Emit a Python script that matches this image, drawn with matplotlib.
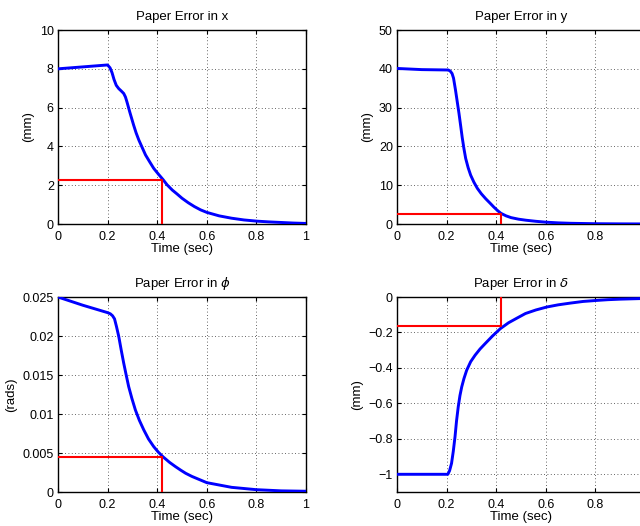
import numpy as np
import matplotlib
matplotlib.use('Agg')
import matplotlib.pyplot as plt

plt.rcParams['font.family'] = ['Liberation Sans', 'DejaVu Sans']
plt.rcParams['mathtext.fontset'] = 'dejavusans'
plt.rcParams['axes.linewidth'] = 1.
plt.rcParams['xtick.direction'] = 'in'
plt.rcParams['ytick.direction'] = 'in'
plt.rcParams['xtick.major.size'] = 3
plt.rcParams['ytick.major.size'] = 3
plt.rcParams['xtick.labelsize'] = 9
plt.rcParams['ytick.labelsize'] = 9
fs = 9.5

# error in x (mm)
tx = [0, 0.2, 0.21, 0.218, 0.226, 0.235, 0.245, 0.255, 0.265, 0.272, 0.278, 0.29, 0.305,
      0.315, 0.326, 0.34, 0.353, 0.37, 0.386, 0.405, 0.423, 0.44, 0.461, 0.48, 0.5, 0.525,
      0.55, 0.575, 0.6, 0.65, 0.7, 0.75, 0.8, 0.85, 0.9, 0.95, 1.0]
ex = [8.0, 8.2, 8.05, 7.8, 7.45, 7.15, 6.98, 6.86, 6.73, 6.55, 6.3, 5.75, 5.1,
      4.7, 4.33, 3.93, 3.56, 3.2, 2.87, 2.57, 2.3, 2.02, 1.75, 1.55, 1.33, 1.1,
      0.9, 0.73, 0.6, 0.42, 0.3, 0.21, 0.15, 0.11, 0.08, 0.05, 0.03]

# error in y (mm)
ty = [0, 0.1, 0.207, 0.215, 0.222, 0.228, 0.236, 0.243, 0.25, 0.257, 0.263, 0.27, 0.277,
      0.287, 0.297, 0.31, 0.324, 0.34, 0.358, 0.375, 0.39, 0.405, 0.419, 0.44, 0.46, 0.49,
      0.52, 0.56, 0.6, 0.65, 0.7, 0.8, 0.9, 1.0]
ey = [40.1, 39.8, 39.7, 39.4, 38.8, 37.6, 34.5, 31.5, 28.5, 25.2, 22.3, 19.4, 16.9,
      14.5, 12.6, 10.8, 9.2, 7.8, 6.5, 5.4, 4.4, 3.5, 2.76, 2.1, 1.65, 1.25,
      0.98, 0.7, 0.48, 0.3, 0.19, 0.08, 0.04, 0.02]

# error in phi (rads)
tp = [0, 0.1, 0.2, 0.211, 0.22, 0.228, 0.236, 0.245, 0.255, 0.265, 0.275, 0.285, 0.298,
      0.312, 0.328, 0.346, 0.365, 0.386, 0.405, 0.423, 0.45, 0.474, 0.495, 0.515, 0.54,
      0.57, 0.6, 0.65, 0.7, 0.75, 0.8, 0.9, 1.0]
ep = [0.025, 0.02395, 0.0230, 0.02285, 0.0226, 0.0222, 0.0212, 0.01995, 0.0182, 0.01653,
      0.0150, 0.01352, 0.0120, 0.01053, 0.0092, 0.00796, 0.0068, 0.00582, 0.0051, 0.00453,
      0.0038, 0.00325, 0.0028, 0.0024, 0.002, 0.0016, 0.0012, 0.0009, 0.0006, 0.00045,
      0.0003, 0.00015, 0.0001]

# error in delta (mm)
td = [0, 0.205, 0.212, 0.22, 0.227, 0.234, 0.24, 0.247, 0.254, 0.261, 0.27, 0.281, 0.297,
      0.315, 0.335, 0.356, 0.385, 0.417, 0.45, 0.485, 0.518, 0.56, 0.605, 0.65, 0.7, 0.75,
      0.807, 0.85, 0.9, 0.95, 1.0]
ed = [-1.0, -1.0, -0.98, -0.938, -0.87, -0.788, -0.7, -0.619, -0.555, -0.507, -0.46,
      -0.413, -0.365, -0.328, -0.293, -0.262, -0.22, -0.178, -0.145, -0.118, -0.093,
      -0.073, -0.056, -0.044, -0.034, -0.025, -0.019, -0.015, -0.012, -0.01, -0.008]

# settling markers (time, value)
t_set = 0.42
marks = [2.27, 2.65, 0.00453, -0.163]

titles = ['Paper Error in x', 'Paper Error in y', r'Paper Error in $\phi$', r'Paper Error in $\delta$']
ylabels = ['(mm)', '(mm)', '(rads)', '(mm)']
ylims = [(0, 10), (0, 50), (0, 0.025), (-1.1, 0)]
yticks = [[0, 2, 4, 6, 8, 10], [0, 10, 20, 30, 40, 50],
          [0, 0.005, 0.01, 0.015, 0.02, 0.025], [-1, -0.8, -0.6, -0.4, -0.2, 0]]
yticklabs = [['0', '2', '4', '6', '8', '10'], ['0', '10', '20', '30', '40', '50'],
             ['0', '0.005', '0.01', '0.015', '0.02', '0.025'],
             ['\u22121', '\u22120.8', '\u22120.6', '\u22120.4', '\u22120.2', '0']]
data = [(tx, ex), (ty, ey), (tp, ep), (td, ed)]

fig = plt.figure(figsize=(6.4, 5.26), dpi=100)
pos = [[0.0906, 0.5741, 0.3875, 0.3688], [0.6203, 0.5741, 0.3875, 0.3688],
       [0.0906, 0.0646, 0.3875, 0.3707], [0.6203, 0.0646, 0.3875, 0.3707]]

for i in range(4):
    ax = fig.add_axes(pos[i])
    t, e = data[i]
    ax.plot(t, e, color='#0000ff', lw=2.1, zorder=3,
            solid_joinstyle='round', solid_capstyle='round')
    y0, y1 = ylims[i]
    m = marks[i]
    if y0 < 0:
        ax.plot([0, t_set, t_set], [m, m, y1], color='#ff0000', lw=1.5, zorder=4)
    else:
        ax.plot([0, t_set, t_set], [m, m, y0], color='#ff0000', lw=1.5, zorder=4)
    ax.set_xlim(0, 1)
    ax.set_ylim(y0, y1)
    ax.set_xticks([0, 0.2, 0.4, 0.6, 0.8, 1])
    if i % 2 == 0:
        ax.set_xticklabels(['0', '0.2', '0.4', '0.6', '0.8', '1'])
    else:
        # right column runs off the figure edge, last label not shown
        ax.set_xticklabels(['0', '0.2', '0.4', '0.6', '0.8', ''])
    ax.set_yticks(yticks[i])
    ax.set_yticklabels(yticklabs[i])
    ax.grid(True, linestyle=(0, (1, 3)), color='k', lw=0.6, alpha=0.8)
    ax.tick_params(axis='x', pad=5)
    ax.tick_params(axis='y', pad=3)
    ax.tick_params(which='both', bottom=True, top=True, left=True, right=True)
    ax.set_title(titles[i], fontsize=fs, pad=7)
    ax.set_xlabel('Time (sec)', fontsize=fs, labelpad=0)
    ax.set_ylabel(ylabels[i], fontsize=fs, labelpad=4)

fig.savefig('out.png', dpi=100)
